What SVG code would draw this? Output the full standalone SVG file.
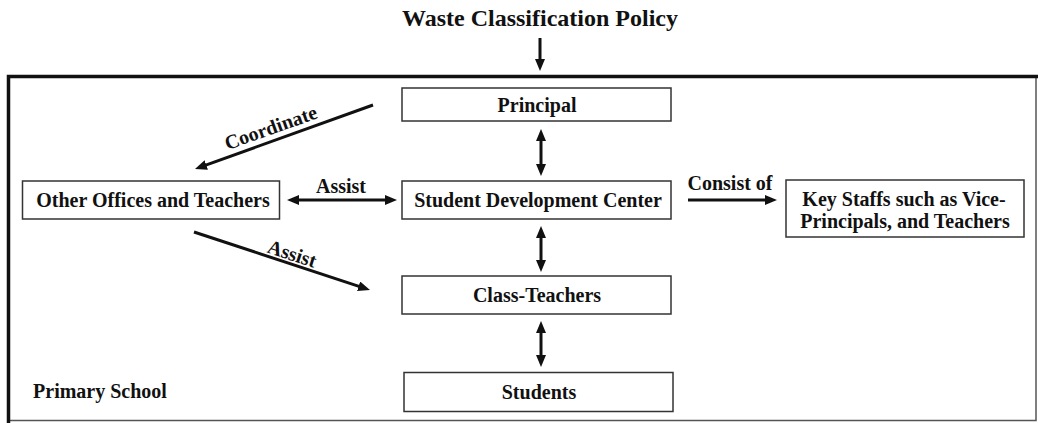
<svg xmlns="http://www.w3.org/2000/svg" width="1038" height="423" viewBox="0 0 1038 423">
  <style>
    .box { fill: #ffffff; stroke: #333333; stroke-width: 1.5; }
    .lbl { font-family: "Liberation Serif", "Times New Roman", serif; font-weight: bold; font-size: 20px; fill: #111111; text-anchor: middle; }
    .title { font-size: 24px; }
    .edge { stroke: #111111; stroke-width: 3; fill: none; }
    .frame-thin { fill: none; stroke: #555555; stroke-width: 1.5; }
    .frame-thick { fill: none; stroke: #111111; stroke-width: 3.5; }
  </style>
  <defs>
    <marker id="head" markerUnits="userSpaceOnUse" markerWidth="12" markerHeight="10" refX="2" refY="5" orient="auto-start-reverse">
      <path d="M0,0 L12,5 L0,10 z" fill="#111111"/>
    </marker>
  </defs>

  <rect width="1038" height="423" fill="#ffffff"/>

  <!-- title above the school frame -->
  <text class="lbl title" x="540" y="26">Waste Classification Policy</text>

  <!-- school frame -->
  <g id="frame">
    <path class="frame-thin" d="M1036,76 V420.5 H8"/>
    <path class="frame-thick" d="M8.5,423 V76.5 H1038"/>
    <text class="lbl" x="100" y="398">Primary School</text>
  </g>

  <!-- nodes -->
  <g id="principal">
    <rect class="box" x="402" y="88" width="269" height="33"/>
    <text class="lbl" x="537" y="112">Principal</text>
  </g>
  <g id="sdc">
    <rect class="box" x="402" y="181" width="269" height="38"/>
    <text class="lbl" x="538" y="207">Student Development Center</text>
  </g>
  <g id="other-offices">
    <rect class="box" x="22.5" y="181" width="257" height="38"/>
    <text class="lbl" x="153" y="207">Other Offices and Teachers</text>
  </g>
  <g id="key-staffs">
    <rect class="box" x="786" y="180" width="238" height="57"/>
    <text class="lbl" x="904" y="206">Key Staffs such as Vice-</text>
    <text class="lbl" x="905" y="228">Principals, and Teachers</text>
  </g>
  <g id="class-teachers">
    <rect class="box" x="402" y="276" width="269" height="38"/>
    <text class="lbl" x="537" y="302">Class-Teachers</text>
  </g>
  <g id="students">
    <rect class="box" x="404" y="372.5" width="269" height="39"/>
    <text class="lbl" x="539" y="399">Students</text>
  </g>

  <!-- connectors -->
  <g id="connectors">
    <line class="edge" x1="540" y1="38" x2="540" y2="61" marker-end="url(#head)"/>
    <line class="edge" x1="373" y1="105" x2="204.4" y2="165.6" marker-end="url(#head)"/>
    <text class="lbl" x="0" y="0" transform="translate(273 134) rotate(-19.5)">Coordinate</text>
    <line class="edge" x1="297" y1="200" x2="387" y2="200" marker-start="url(#head)" marker-end="url(#head)"/>
    <text class="lbl" x="341" y="193">Assist</text>
    <line class="edge" x1="194" y1="232" x2="360.5" y2="286.9" marker-end="url(#head)"/>
    <text class="lbl" x="0" y="0" transform="translate(290 260) rotate(18.2)">Assist</text>
    <line class="edge" x1="541" y1="139" x2="541" y2="166" marker-start="url(#head)" marker-end="url(#head)"/>
    <line class="edge" x1="541" y1="236" x2="541" y2="262" marker-start="url(#head)" marker-end="url(#head)"/>
    <line class="edge" x1="541" y1="331" x2="541" y2="357" marker-start="url(#head)" marker-end="url(#head)"/>
    <line class="edge" x1="688" y1="200" x2="767" y2="200" marker-end="url(#head)"/>
    <text class="lbl" x="730" y="190">Consist of</text>
  </g>
</svg>
